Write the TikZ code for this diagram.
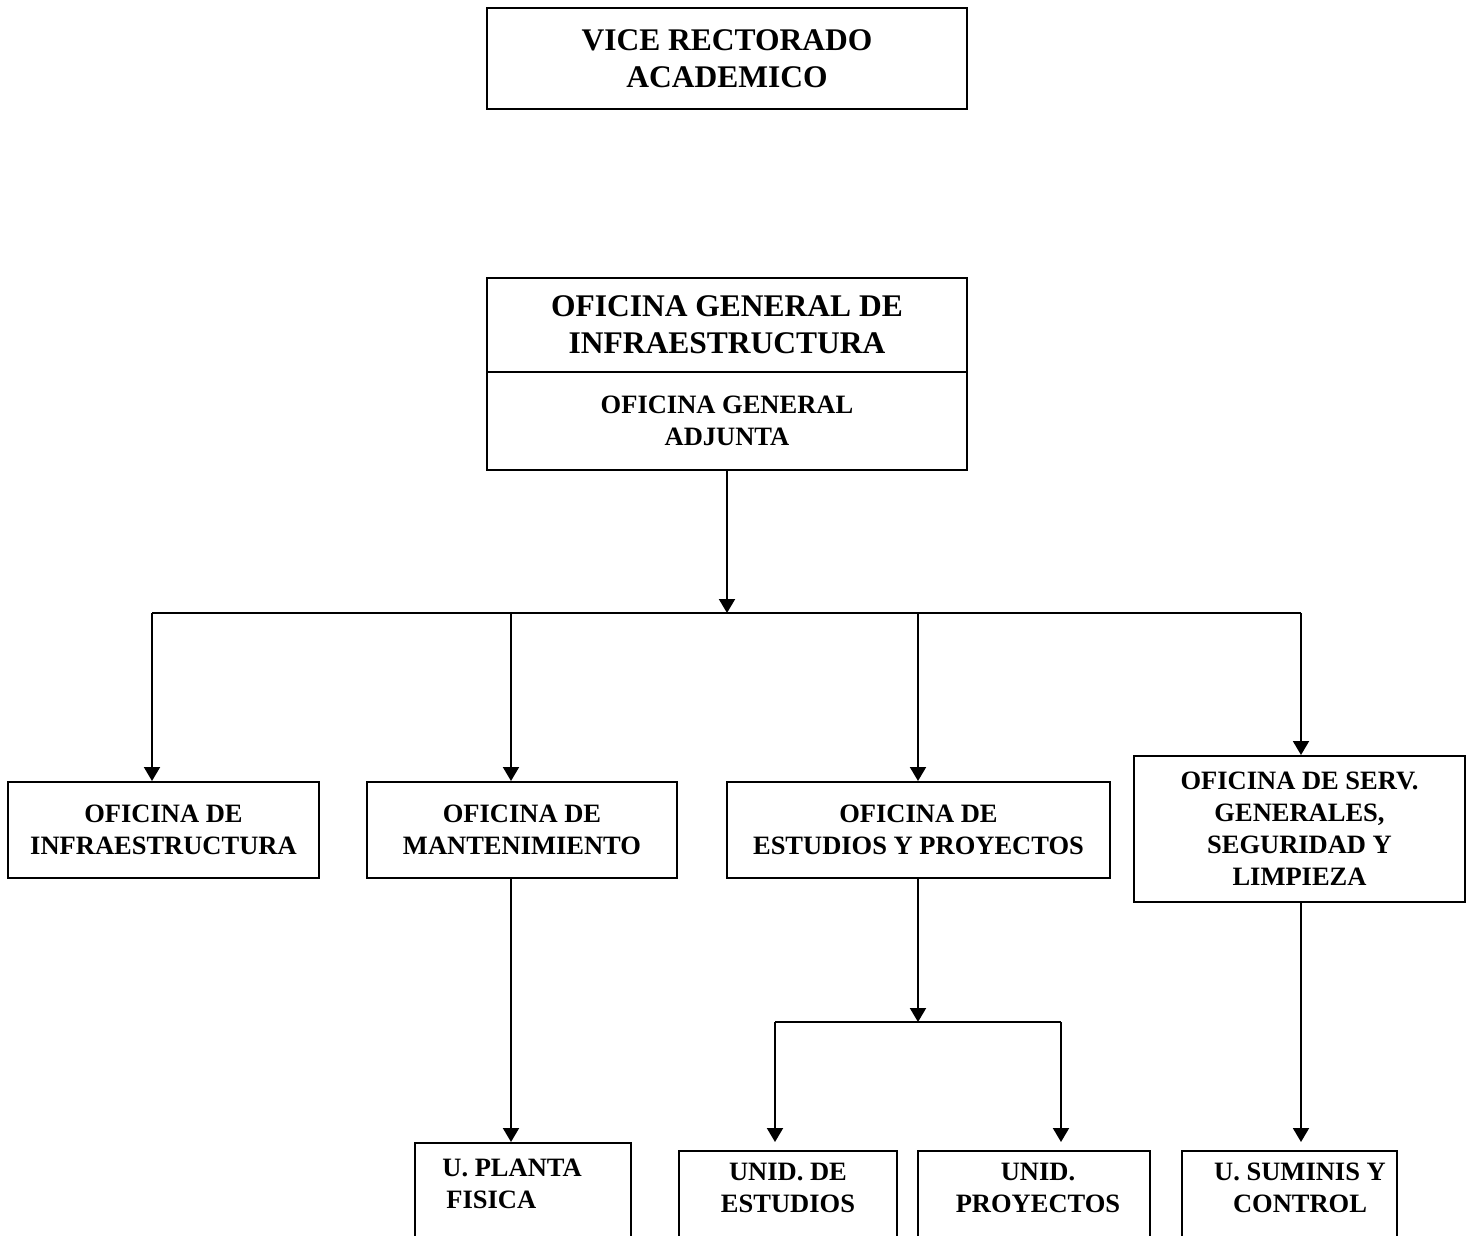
\documentclass[tikz,border=0pt]{standalone}
\usepackage{fontspec}
\setmainfont{Liberation Serif}
\usetikzlibrary{arrows.meta}

\tikzset{
  orgbox/.style={draw,line width=1pt,rectangle,align=center,inner sep=2pt,
    font=\bfseries\fontsize{13.25}{16}\selectfont},
  bigbox/.style={orgbox,font=\bfseries\fontsize{15.75}{18.5}\selectfont},
  unitbox/.style={draw,line width=1pt,rectangle,anchor=north,minimum height=60pt},
  unittext/.style={align=center,inner sep=0pt,font=\bfseries\fontsize{13.25}{16}\selectfont},
  arr/.style={line width=1pt,-{Triangle[length=7pt,width=8pt]}}
}

\begin{document}
\begin{tikzpicture}[x=0.5pt,y=-0.5pt]
  \useasboundingbox (0,0) rectangle (1478,1236);
  \clip (0,0) rectangle (1478,1236);

  % upper levels
  \node[bigbox,minimum width=240pt,minimum height=50.5pt] (vra) at (727,58.5) {VICE RECTORADO\\ACADEMICO};
  \node[bigbox,minimum width=240pt,minimum height=47pt] (ogi) at (727,325) {OFICINA GENERAL DE\\INFRAESTRUCTURA};
  \node[orgbox,minimum width=240pt,minimum height=49pt] (oga) at (727,421) {OFICINA GENERAL\\ADJUNTA};

  % offices
  \node[orgbox,minimum width=155.5pt,minimum height=48pt] (ofi) at (163.5,830) {OFICINA DE\\INFRAESTRUCTURA};
  \node[orgbox,minimum width=155pt,minimum height=48pt] (omant) at (522,830) {OFICINA DE\\MANTENIMIENTO};
  \node[orgbox,minimum width=191.5pt,minimum height=48pt] (oest) at (918.5,830) {OFICINA DE\\ESTUDIOS Y PROYECTOS};
  \node[orgbox,minimum width=165.5pt,minimum height=73pt] (oserv) at (1299.5,829) {OFICINA DE SERV.\\GENERALES,\\SEGURIDAD Y\\LIMPIEZA};

  % units (cut off at the bottom)
  \node[unitbox,minimum width=108pt] (uplanta) at (523,1142) {};
  \node[unitbox,minimum width=109pt] (uest) at (788,1150) {};
  \node[unitbox,minimum width=116pt] (uproy) at (1034,1150) {};
  \node[unitbox,minimum width=107.5pt] (usum) at (1289.5,1150) {};
  \node[unittext,align=left,anchor=west] (tplanta) at ([xshift=14pt,yshift=-21pt]uplanta.north west) {U. PLANTA\\\hspace*{2pt}FISICA};
  \node[unittext] (test) at ([yshift=-19pt]uest.north) {UNID. DE\\ESTUDIOS};
  \node[unittext] (tproy) at ([xshift=2pt,yshift=-19pt]uproy.north) {UNID.\\PROYECTOS};
  \node[unittext] (tsum) at ([xshift=5.25pt,yshift=-19pt]usum.north) {U. SUMINIS Y\\CONTROL};

  % buses
  \coordinate (b0) at (727,613);
  \coordinate (b1) at (152,613);
  \coordinate (b2) at (511,613);
  \coordinate (b3) at (918,613);
  \coordinate (b4) at (1301,613);
  \coordinate (c0) at (918,1022);
  \coordinate (c1) at (775,1022);
  \coordinate (c2) at (1061,1022);

  \draw[arr] (oga.south) -- (b0);
  \draw[line width=1pt] (b1) -- (b4);
  \draw[arr] (b1) -- (b1 |- ofi.north);
  \draw[arr] (b2) -- (b2 |- omant.north);
  \draw[arr] (b3) -- (b3 |- oest.north);
  \draw[arr] (b4) -- (b4 |- oserv.north);

  \draw[arr] (b2 |- omant.south) -- (b2 |- uplanta.north);
  \draw[arr] (c0 |- oest.south) -- (c0);
  \draw[line width=1pt] (c1) -- (c2);
  \draw[arr] (c1) -- ([yshift=4pt]c1 |- uest.north);
  \draw[arr] (c2) -- ([yshift=4pt]c2 |- uproy.north);
  \draw[arr] (b4 |- oserv.south) -- ([yshift=4pt]b4 |- usum.north);
\end{tikzpicture}
\end{document}
